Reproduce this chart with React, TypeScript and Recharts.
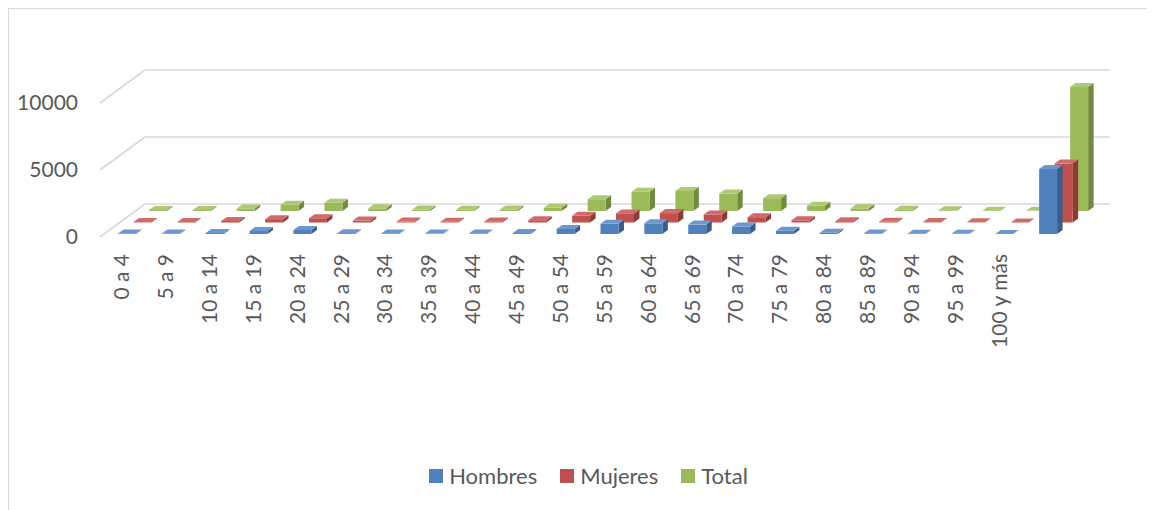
import React from 'react';
import { BarChart, Bar, XAxis, YAxis, CartesianGrid, Legend } from 'recharts';

const categories = [
  '0 a 4', '5 a 9', '10 a 14', '15 a 19', '20 a 24', '25 a 29', '30 a 34', '35 a 39',
  '40 a 44', '45 a 49', '50 a 54', '55 a 59', '60 a 64', '65 a 69', '70 a 74', '75 a 79',
  '80 a 84', '85 a 89', '90 a 94', '95 a 99', '100 y más', '',
];
const hombres = [40, 40, 70, 220, 300, 60, 40, 30, 40, 70, 380, 760, 800, 700, 560, 240, 100, 40, 20, 10, 5, 4850];
const mujeres = [30, 40, 120, 250, 320, 140, 70, 60, 80, 170, 500, 680, 700, 600, 400, 160, 100, 60, 30, 15, 5, 4400];
const total = [70, 80, 190, 470, 620, 200, 110, 90, 120, 240, 880, 1440, 1500, 1300, 960, 400, 200, 100, 50, 25, 10, 9250];
const yTicks = [0, 5000, 10000];
const seriesNames = ['Hombres', 'Mujeres', 'Total'];

const data = categories.map((cat, i) => ({
  cat,
  hombres: hombres[i],
  mujeres: mujeres[i],
  total: total[i],
}));

const FONT = 'Lato, "Open Sans", "DejaVu Sans", sans-serif';
const TEXT = '#595959';
const GRID = '#d9d9d9';
const DEPTH_X = 5.5;
const DEPTH_Y = 4;
const WALL_X = 45;
const WALL_Y = 33;

type Colors = { front: string; top: string; side: string };
const blue: Colors = { front: '#4f81bd', top: '#6d98cf', side: '#395e8c' };
const red: Colors = { front: '#c0504d', top: '#d06b68', side: '#8d3b38' };
const green: Colors = { front: '#9bbb59', top: '#adc974', side: '#718a40' };
const legendColors = [blue.front, red.front, green.front];

function make3DShape(ox: number, oy: number, c: Colors) {
  return (props: any) => {
    const { x, y, width, height } = props;
    if (x == null || y == null || !isFinite(x) || !isFinite(y)) return <g />;
    const h = Math.max(0, height || 0);
    const w = width;
    const fx = x + ox;
    const fy = y + oy;
    const top = `${fx},${fy} ${fx + DEPTH_X},${fy - DEPTH_Y} ${fx + w + DEPTH_X},${fy - DEPTH_Y} ${fx + w},${fy}`;
    const side = `${fx + w},${fy} ${fx + w + DEPTH_X},${fy - DEPTH_Y} ${fx + w + DEPTH_X},${fy + h - DEPTH_Y} ${fx + w},${fy + h}`;
    return (
      <g>
        <polygon points={side} fill={c.side} />
        <rect x={fx} y={fy} width={w} height={h} fill={c.front} />
        <polygon points={top} fill={c.top} />
      </g>
    );
  };
}

const blueShape = make3DShape(5, -3, blue);
const redShape = make3DShape(20.5, -14.5, red);
const greenShape = make3DShape(36, -26, green);

const gridLine = (props: any) => {
  const { x1, y1, x2, index } = props;
  return (
    <g key={`grid-${index}-${y1}`}>
      <line x1={x1} y1={y1} x2={x1 + WALL_X} y2={y1 - WALL_Y} stroke={GRID} strokeWidth={1.7} />
      <line x1={x1 + WALL_X} y1={y1 - WALL_Y} x2={x2 + WALL_X} y2={y1 - WALL_Y} stroke={GRID} strokeWidth={1.7} />
    </g>
  );
};

const CategoryTick = (props: any) => {
  const { x, y, payload } = props;
  return (
    <text
      x={0}
      y={0}
      transform={`translate(${x},${y}) rotate(-90)`}
      textAnchor="end"
      dy="0.35em"
      fill={TEXT}
      fontSize={21}
      fontFamily={FONT}
    >
      {payload.value}
    </text>
  );
};

const LegendContent = () => (
  <div
    style={{
      display: 'flex',
      justifyContent: 'center',
      alignItems: 'center',
      paddingLeft: 13,
      fontFamily: FONT,
      fontSize: 22,
      color: TEXT,
      lineHeight: '26px',
    }}
  >
    {seriesNames.map((name, i) => (
      <div key={name} style={{ display: 'flex', alignItems: 'center', marginRight: i < seriesNames.length - 1 ? 23 : 0 }}>
        <span style={{ display: 'inline-block', width: 14, height: 14, background: legendColors[i], marginRight: 6 }} />
        <span>{name}</span>
      </div>
    ))}
  </div>
);

export default function App() {
  return (
    <div style={{ width: 1147, height: 502, borderLeft: `1px solid ${GRID}`, borderTop: `1px solid ${GRID}`, boxSizing: 'border-box', fontFamily: FONT }}>
      <BarChart
        width={1146}
        height={501}
        data={data}
        margin={{ top: 94, right: 90, bottom: 153, left: 31 }}
      >
        <CartesianGrid vertical={false} horizontal={gridLine} />
        <XAxis
          dataKey="cat"
          axisLine={false}
          tickLine={false}
          tickSize={0}
          tickMargin={17}
          interval={0}
          height={120}
          tick={<CategoryTick />}
        />
        <XAxis xAxisId="r" dataKey="cat" hide />
        <XAxis xAxisId="g" dataKey="cat" hide />
        <YAxis
          width={60}
          domain={[0, 10000]}
          ticks={yTicks}
          axisLine={false}
          tickLine={false}
          tickSize={0}
          tickMargin={22}
          tick={{ fill: TEXT, fontSize: 21, fontFamily: FONT }}
        />
        <Legend
          layout="horizontal"
          verticalAlign="middle"
          align="center"
          wrapperStyle={{ top: 454, left: 0, width: 1146 }}
          content={() => <LegendContent />}
        />
        <Bar dataKey="total" name="Total" xAxisId="g" fill={green.front} barSize={18} shape={greenShape} isAnimationActive={false} />
        <Bar dataKey="mujeres" name="Mujeres" xAxisId="r" fill={red.front} barSize={18} shape={redShape} isAnimationActive={false} />
        <Bar dataKey="hombres" name="Hombres" xAxisId={0} fill={blue.front} barSize={18} shape={blueShape} isAnimationActive={false} />
      </BarChart>
    </div>
  );
}
